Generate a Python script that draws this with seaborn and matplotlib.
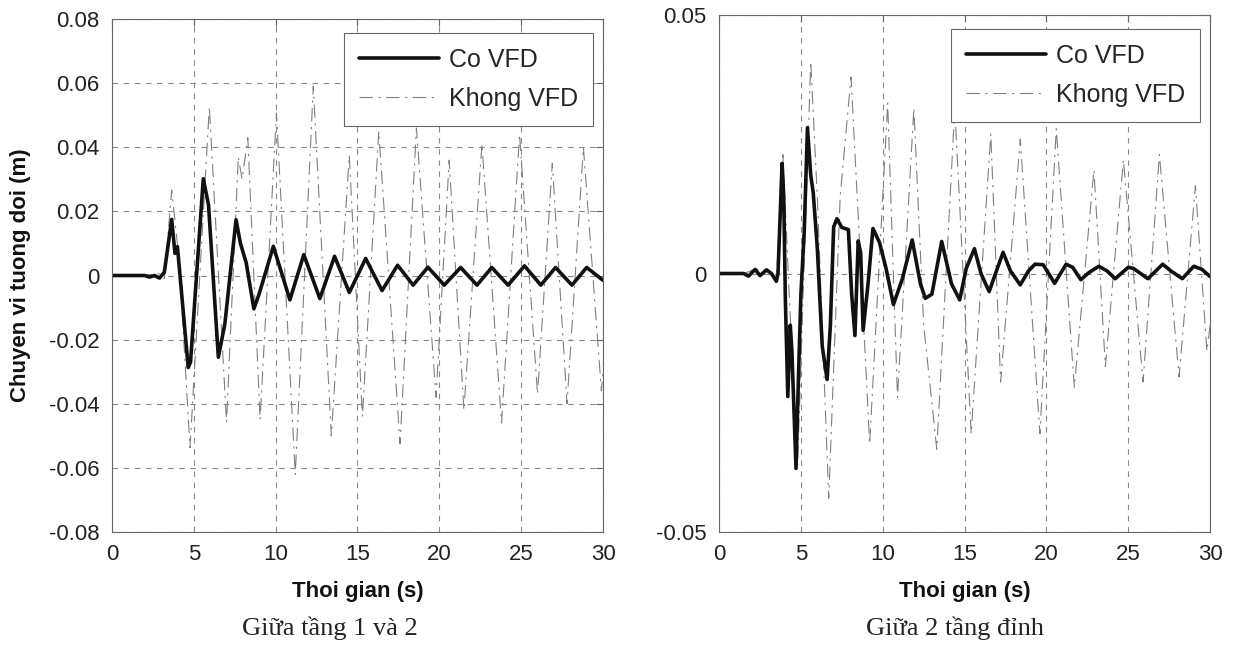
import numpy as np
import pandas as pd
import matplotlib
matplotlib.use("Agg")
import matplotlib.pyplot as plt
import seaborn as sns

# ---------------- data ----------------
# Left panel: "Giữa tầng 1 và 2"
t_co_left = [0, 2.0, 2.3, 2.6, 2.9, 3.2, 3.65, 3.85, 4.0, 4.66, 4.8, 5.1, 5.58, 5.9,
             6.5, 6.9, 7.58, 7.85, 8.2, 8.67, 9.0, 9.86, 10.87, 11.72, 12.7, 13.6,
             14.5, 15.5, 16.5, 17.45, 18.4, 19.3, 20.3, 21.3, 22.3, 23.2, 24.2,
             25.2, 26.2, 27.1, 28.1, 29.0, 30.0]
y_co_left = [0, 0, -0.0005, 0.0, -0.0008, 0.001, 0.0175, 0.0069, 0.009, -0.0287, -0.027,
             -0.005, 0.0302, 0.022, -0.0255, -0.015, 0.0174, 0.010, 0.004, -0.0104,
             -0.0056, 0.0091, -0.0076, 0.0065, -0.0072, 0.006, -0.0053, 0.0053,
             -0.0047, 0.0032, -0.003, 0.0026, -0.003, 0.0025, -0.003, 0.0025,
             -0.003, 0.003, -0.003, 0.0025, -0.003, 0.0025, -0.0015]

t_khong_left = [0, 1.5, 2.9, 3.2, 3.65, 4.1, 4.77, 5.95, 7.0, 7.72, 7.95, 8.3, 9.05,
                10.05, 11.2, 12.3, 13.4, 14.5, 15.3, 16.3, 17.6, 18.6, 19.8, 20.6,
                21.5, 22.6, 23.8, 24.9, 26.0, 26.9, 27.8, 28.8, 29.9, 30.0]
y_khong_left = [0, 0, 0.0005, -0.001, 0.0266, 0.005, -0.0537, 0.0526, -0.0458, 0.037,
                0.030, 0.043, -0.045, 0.0506, -0.062, 0.059, -0.050, 0.0375, -0.044,
                0.045, -0.0525, 0.046, -0.038, 0.036, -0.042, 0.041, -0.046, 0.044,
                -0.037, 0.035, -0.040, 0.040, -0.036, -0.030]

# Right panel: "Giữa 2 tầng đỉnh"
t_co_right = [0, 1.5, 1.8, 2.2, 2.5, 2.9, 3.2, 3.5, 3.6, 3.85, 3.95, 4.05, 4.2, 4.35,
              4.45, 4.7, 4.85, 5.0, 5.2, 5.4, 5.6, 5.75, 6.0, 6.3, 6.6, 6.8, 7.0, 7.2,
              7.5, 7.9, 8.1, 8.3, 8.5, 8.65, 8.8, 9.1, 9.4, 9.8, 10.2, 10.65, 11.2,
              11.8, 12.3, 12.6, 13.0, 13.6, 14.2, 14.7, 15.1, 15.6, 16.0, 16.5, 17.0,
              17.35, 17.8, 18.4, 18.9, 19.3, 19.8, 20.5, 21.2, 21.6, 22.1, 22.6,
              23.2, 23.7, 24.2, 25.0, 25.3, 26.2, 27.1, 27.6, 28.3, 29.0, 29.5, 30.0]
y_co_right = [0, 0, -0.0005, 0.0008, -0.0004, 0.0007, 0.0, -0.0015, 0.0, 0.0213,
              0.015, -0.005, -0.0238, -0.010, -0.015, -0.0377, -0.020, -0.004, 0.008,
              0.0282, 0.019, 0.0157, 0.005, -0.014, -0.0205, -0.010, 0.009, 0.0106,
              0.0089, 0.0085, -0.004, -0.012, 0.0063, 0.004, -0.011, -0.002, 0.0087,
              0.006, 0.001, -0.006, -0.001, 0.0065, -0.002, -0.0048, -0.004, 0.0062,
              -0.002, -0.0051, 0.001, 0.0048, 0.0, -0.0035, 0.001, 0.0041, 0.0005,
              -0.0022, 0.0005, 0.0018, 0.0017, -0.0019, 0.0018, 0.0012, -0.0012,
              0.0002, 0.0014, 0.0005, -0.001, 0.0012, 0.001, -0.001, 0.0018, 0.0005,
              -0.001, 0.0014, 0.0008, -0.0006]

t_khong_right = [0, 1.5, 2.2, 2.9, 3.5, 3.9, 4.3, 4.8, 5.6, 6.0, 6.7, 7.4, 8.06, 8.6,
                 9.2, 10.3, 10.9, 11.9, 12.5, 13.3, 14.4, 15.4, 16.6, 17.2, 18.4,
                 19.6, 20.6, 21.7, 22.9, 23.6, 24.7, 25.9, 26.9, 28.1, 29.1, 29.8, 30.0]
y_khong_right = [0, 0, 0.0008, 0.0007, -0.0015, 0.023, -0.005, -0.037, 0.041, 0.015,
                 -0.0435, 0.015, 0.038, 0.005, -0.033, 0.033, -0.024, 0.032, -0.010,
                 -0.034, 0.032, -0.031, 0.027, -0.021, 0.026, -0.031, 0.028, -0.022,
                 0.020, -0.018, 0.022, -0.021, 0.023, -0.020, 0.017, -0.015, -0.010]

series_names = ["Co VFD", "Khong VFD"]
x_ticks = [0, 5, 10, 15, 20, 25, 30]
y_ticks_left = [-0.08, -0.06, -0.04, -0.02, 0, 0.02, 0.04, 0.06, 0.08]
y_tick_labels_left = ["-0.08", "-0.06", "-0.04", "-0.02", "0", "0.02", "0.04", "0.06", "0.08"]
y_ticks_right = [-0.05, 0, 0.05]
y_tick_labels_right = ["-0.05", "0", "0.05"]
x_label = "Thoi gian (s)"
y_label = "Chuyen vi tuong doi (m)"
captions = ["Giữa tầng 1 và 2", "Giữa 2 tầng đỉnh"]

# ---------------- style ----------------
sns.set_style("white")
plt.rcParams["font.family"] = ["Liberation Sans", "DejaVu Sans"]
plt.rcParams["axes.edgecolor"] = "#666666"
plt.rcParams["axes.linewidth"] = 0.8

fig = plt.figure(figsize=(12.37, 6.53), dpi=100)
ax_l = fig.add_axes([0.0905, 0.1853, 0.397, 0.7856])
ax_r = fig.add_axes([0.5813, 0.1853, 0.397, 0.7917])


def make_df(t_co, y_co, t_kh, y_kh):
    d1 = pd.DataFrame({"t": t_co, "y": y_co, "series": series_names[0]})
    d2 = pd.DataFrame({"t": t_kh, "y": y_kh, "series": series_names[1]})
    return d1, d2


def draw(ax, t_co, y_co, t_kh, y_kh, ylim, yticks, yticklabels):
    d_co, d_kh = make_df(t_co, y_co, t_kh, y_kh)
    ax.set_axisbelow(True)
    ax.grid(True, linestyle=(0, (5, 5)), color="#888888", linewidth=0.8)
    sns.lineplot(data=d_kh, x="t", y="y", ax=ax, color="#808080", linewidth=0.8,
                 linestyle=(0, (12, 5, 2, 5)), estimator=None, label=series_names[1])
    sns.lineplot(data=d_co, x="t", y="y", ax=ax, color="#111111", linewidth=2.6,
                 estimator=None, label=series_names[0])
    ax.set_xlim(0, 30)
    ax.set_ylim(*ylim)
    ax.set_xticks(x_ticks)
    ax.set_xticklabels([str(v) for v in x_ticks])
    ax.set_yticks(yticks)
    ax.set_yticklabels(yticklabels)
    ax.tick_params(direction="in", length=5, width=0.8, labelsize=16, pad=9,
                   colors="#666666", labelcolor="#222222", top=True, right=True)
    for s in ax.spines.values():
        s.set_visible(True)
    ax.set_xlabel(x_label, fontsize=16, fontweight="bold", color="#111111")
    ax.xaxis.set_label_coords(0.5, -0.095)
    ax.set_ylabel("")
    handles, labels = ax.get_legend_handles_labels()
    order = [labels.index(series_names[0]), labels.index(series_names[1])]
    leg = ax.legend([handles[i] for i in order], [labels[i] for i in order],
                    loc="upper right", bbox_to_anchor=(0.98, 0.973), borderaxespad=0,
                    fontsize=18, frameon=True, fancybox=False, edgecolor="#666666",
                    handlelength=3.2, handletextpad=0.4, borderpad=0.6,
                    labelspacing=0.6)
    leg.get_frame().set_linewidth(0.8)
    leg.get_frame().set_alpha(1)


draw(ax_l, t_co_left, y_co_left, t_khong_left, y_khong_left, (-0.08, 0.08),
     y_ticks_left, y_tick_labels_left)
draw(ax_r, t_co_right, y_co_right, t_khong_right, y_khong_right, (-0.05, 0.05),
     y_ticks_right, y_tick_labels_right)

ax_l.set_ylabel(y_label, fontsize=16, fontweight="bold", color="#111111")
ax_l.yaxis.set_label_coords(-0.165, 0.5)

fig.text(330 / 1237, 1 - 628 / 653, captions[0], ha="center", va="center",
         fontsize=19, family=["Liberation Serif", "DejaVu Serif"], color="#222222")
fig.text(955 / 1237, 1 - 628 / 653, captions[1], ha="center", va="center",
         fontsize=19, family=["Liberation Serif", "DejaVu Serif"], color="#222222")

fig.savefig("out.png", dpi=100, facecolor="white")
